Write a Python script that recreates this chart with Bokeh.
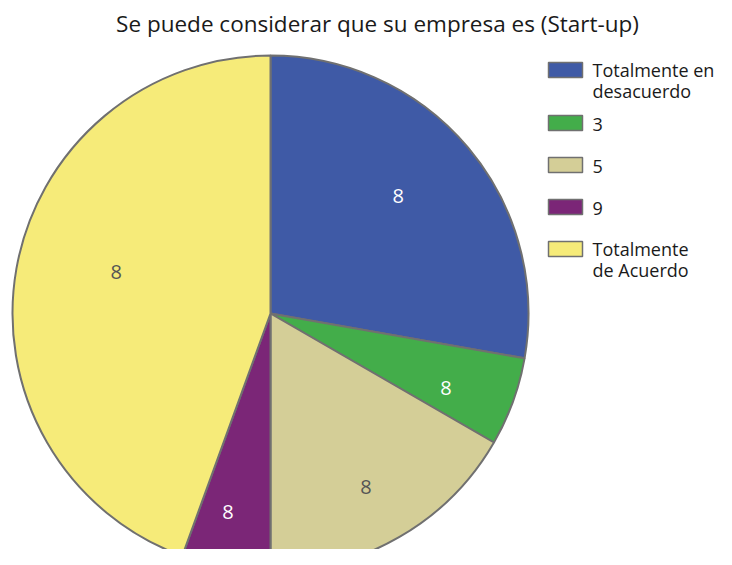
import numpy as np
from bokeh.plotting import figure
from bokeh.models import ColumnDataSource, Range1d
from bokeh.embed import file_html
from bokeh.resources import INLINE
from bokeh.core.properties import value

# ---- data ----
title_text = "Se puede considerar que su empresa es (Start-up)"
categories = ["Totalmente en\ndesacuerdo", "3", "5", "9", "Totalmente\nde Acuerdo"]
counts = [5, 1, 3, 1, 8]
slice_labels = ["8", "8", "8", "8", "8"]

# ---- styles ----
colors = ["#3f5aa6", "#43ad4a", "#d4ce97", "#7b2677", "#f6eb79"]
label_colors = ["white", "white", "#555555", "white", "#555555"]
label_radius = [0.674, 0.738, 0.769, 0.785, 0.620]
label_dangle = [2.7, -2.9, -1.2, -2.1, -5.2]   # degrees
FONT = "Open Sans"

W, H = 716, 549
p = figure(width=W, height=H, x_range=Range1d(0, W), y_range=Range1d(0, H),
           output_backend="svg", toolbar_location=None, min_border=0,
           x_axis_type=None, y_axis_type=None)
p.grid.visible = False
p.outline_line_color = None

cx, cy, R = 270, H - 313, 258
vals = np.array(counts, dtype=float)
frac = vals / vals.sum()
cum = np.cumsum(frac)
start = np.pi / 2 - 2 * np.pi * cum
end = np.pi / 2 - 2 * np.pi * (cum - frac)
mid = (start + end) / 2 + np.radians(label_dangle)

src = ColumnDataSource(dict(start=start, end=end, color=colors))
p.wedge(x=cx, y=cy, radius=R, start_angle="start", end_angle="end",
        fill_color="color", line_color="#707070", line_width=2, source=src)

lr = np.array(label_radius) * R
lsrc = ColumnDataSource(dict(x=cx + lr * np.cos(mid), y=cy + lr * np.sin(mid),
                             t=slice_labels, c=label_colors))
p.text(x="x", y="y", text="t", text_color="c", source=lsrc,
       text_align="center", text_baseline="middle",
       text_font=value(FONT), text_font_size="20px")

# title
p.text(x=[377], y=[H - 23], text=[title_text], text_align="center", text_baseline="middle",
       text_font=value(FONT), text_font_size="22.5px", text_color="#1a1a1a")

# legend (manual)
LH = 18
nlines = [c.count("\n") + 1 for c in categories]
ys = []
y = H - 69.5
for n in nlines:
    ys.append(y)
    y -= 42 + 11 * (n - 1)
legsrc = ColumnDataSource(dict(x=[565] * len(categories), y=ys, color=colors,
                               tx=[592] * len(categories),
                               ty=[v - 1.5 - (n - 1) * LH / 2 for v, n in zip(ys, nlines)],
                               t=categories))
p.rect(x="x", y="y", width=34, height=15, width_units="screen", height_units="screen",
       fill_color="color", line_color="#707070", line_width=1.5, source=legsrc)
p.text(x="tx", y="ty", text="t", source=legsrc, text_align="left", text_baseline="middle",
       text_font=value(FONT), text_font_size="18px", text_color="#1a1a1a",
       text_line_height=LH / 18 * 0.85)

open("out.html", "w").write(file_html(p, INLINE))
